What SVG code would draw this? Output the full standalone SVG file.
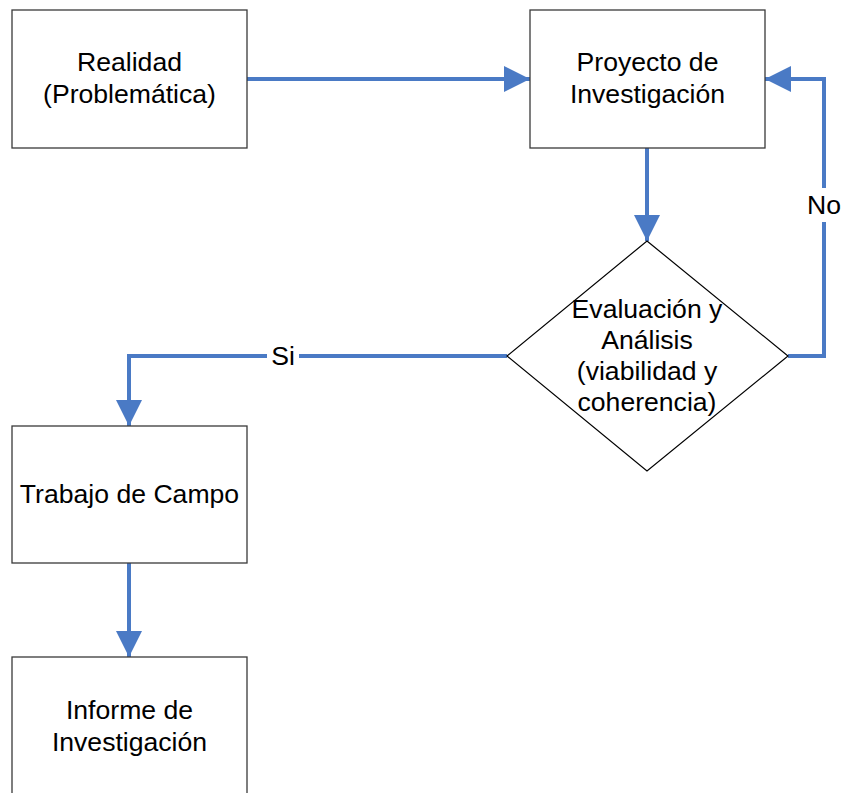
<svg xmlns="http://www.w3.org/2000/svg" width="845" height="793" viewBox="0 0 845 793">
<style>
.box{fill:#fff;stroke:#3a3a3a;stroke-width:1.3}
.dia{fill:#fff;stroke:#000;stroke-width:1.2}
.t{font-family:"Liberation Sans",Arial,sans-serif;font-size:26.6px;fill:#000;text-anchor:middle}
.c{fill:none;stroke:#4a7ac5;stroke-width:4}
</style>
<defs>
<marker id="ah" markerUnits="userSpaceOnUse" markerWidth="26" markerHeight="26" viewBox="0 0 24 24" refX="24" refY="12" orient="auto">
<path d="M0,0 L24,12 L0,24 Z" fill="#4a7ac5"/>
</marker>
</defs>
<rect x="0" y="0" width="845" height="793" fill="#fff"/>
<g id="connectors">
<path class="c" d="M247,79 L530,79" marker-end="url(#ah)"/>
<path class="c" d="M647,148 L647,241" marker-end="url(#ah)"/>
<path class="c" d="M788,356 L824,356 L824,79 L765,79" marker-end="url(#ah)"/>
<path class="c" d="M507,356 L129,356 L129,426" marker-end="url(#ah)"/>
<path class="c" d="M129,563 L129,657" marker-end="url(#ah)"/>
<rect x="806" y="188" width="36" height="34" fill="#fff"/>
<text class="t" x="824" y="214">No</text>
<rect x="267" y="340" width="32" height="32" fill="#fff"/>
<text class="t" x="283" y="365">Si</text>
</g>
<g id="n1">
<rect class="box" x="12" y="10" width="235" height="138"/>
<text class="t" x="129.5" y="71">Realidad</text>
<text class="t" x="129.5" y="103">(Problemática)</text>
</g>
<g id="n2">
<rect class="box" x="530" y="10" width="235" height="138"/>
<text class="t" x="647.5" y="71">Proyecto de</text>
<text class="t" x="647.5" y="103">Investigación</text>
</g>
<g id="n3">
<polygon class="dia" points="647,241 788,356 647,471 507,356"/>
<text class="t" x="647" y="318">Evaluación y</text>
<text class="t" x="647" y="349">Análisis</text>
<text class="t" x="647" y="380">(viabilidad y</text>
<text class="t" x="647" y="411">coherencia)</text>
</g>
<g id="n4">
<rect class="box" x="12" y="426" width="235" height="137"/>
<text class="t" x="129.5" y="503">Trabajo de Campo</text>
</g>
<g id="n5">
<rect class="box" x="12" y="657" width="235" height="160"/>
<text class="t" x="129.5" y="719">Informe de</text>
<text class="t" x="129.5" y="751">Investigación</text>
</g>
</svg>
